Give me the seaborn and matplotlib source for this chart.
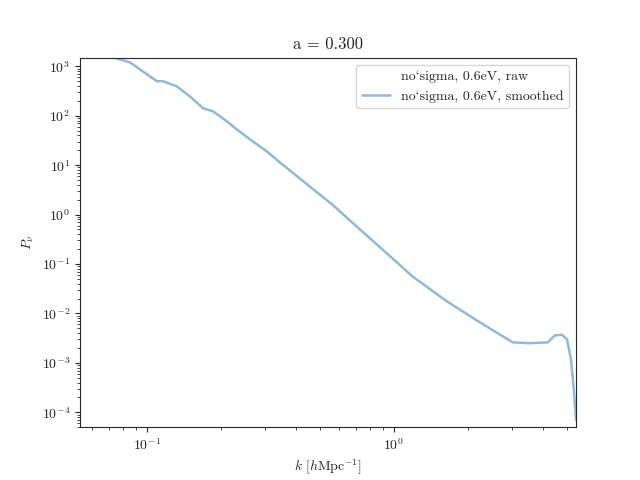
import numpy as np
import pandas as pd
import matplotlib
matplotlib.use("Agg")
import matplotlib.pyplot as plt
import seaborn as sns

sns.set_style("ticks")
plt.rcParams["font.family"] = ["cmr10", "DejaVu Serif"]
plt.rcParams["mathtext.fontset"] = "cm"
plt.rcParams["axes.formatter.use_mathtext"] = True
plt.rcParams["axes.unicode_minus"] = False

k = [0.0536, 0.0728, 0.0853, 0.100, 0.1097, 0.116, 0.132, 0.149, 0.169, 0.185,
     0.211, 0.231, 0.269, 0.306, 0.345, 0.445, 0.566, 0.708, 0.877, 1.19, 1.64,
     2.23, 3.03, 3.55, 4.20, 4.48, 4.79, 5.02, 5.21, 5.35, 5.46]
pk = [1600, 1520, 1205, 690, 500, 500, 395, 248, 141, 123, 77, 53, 30, 19,
      11.4, 4.1, 1.56, 0.57, 0.22, 0.056, 0.0175, 0.0066, 0.0026, 0.0025,
      0.0026, 0.0036, 0.0037, 0.0030, 0.00117, 0.00029, 7e-5]

df = pd.DataFrame({"k": k, "P": pk})

fig, ax = plt.subplots(figsize=(6.4, 4.8), dpi=100)
ax.plot(df["k"], df["P"], color="C0", alpha=0.0, label="no`sigma, 0.6eV, raw")
sns.lineplot(data=df, x="k", y="P", ax=ax, color="C0", alpha=0.5, lw=1.8,
             label="no`sigma, 0.6eV, smoothed")
ax.set_xscale("log")
ax.set_yscale("log")
ax.set_xlim(0.0536, 5.46)
ax.set_ylim(5e-5, 1.5e3)
ax.set_xlabel(r"$k\ [h\mathrm{Mpc}^{-1}]$")
ax.set_ylabel(r"$P_\nu$")
ax.set_title("a = 0.300")
ax.legend(loc="upper right")
fig.savefig("out.png")
